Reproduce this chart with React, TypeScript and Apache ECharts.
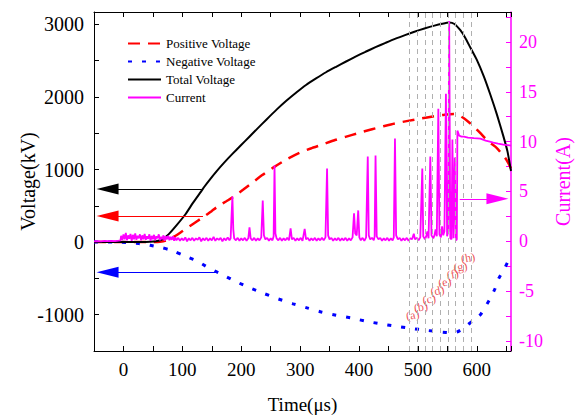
import React, { useEffect, useRef } from 'react';
import * as echarts from 'echarts';

const FONT = 'Liberation Serif, DejaVu Serif, serif';

// [time (μs), voltage (kV)]
const positiveVoltage: [number, number][] = [
  [-50, 0], [0, 0], [50, 0], [62, 5], [72, 20], [80, 50], [90, 95], [100, 150], [110, 205],
  [120, 260], [130, 315], [140, 370], [150, 430], [160, 490], [174, 560], [188, 630],
  [203, 720], [219, 820], [237, 930], [255, 1030], [277, 1140], [299, 1230], [318, 1290],
  [338, 1345], [357, 1400], [377, 1450], [400, 1505], [422, 1555], [441, 1595], [461, 1635],
  [483, 1670], [506, 1705], [525, 1730], [545, 1755], [561, 1765], [570, 1745], [578, 1705],
  [588, 1640], [598, 1566], [606, 1500], [614, 1431], [624, 1360], [634, 1296], [641, 1230],
  [648, 1161], [654, 1080], [658, 1010],
];

const negativeVoltage: [number, number][] = [
  [-50, 0], [-5, 0], [10, -8], [26, -20], [40, -35], [51, -54], [64, -75], [76, -100],
  [88, -135], [98, -170], [110, -210], [127, -270], [143, -347], [165, -436], [190, -540],
  [213, -625], [238, -706], [263, -783], [288, -850], [313, -909], [336, -963], [361, -1008],
  [386, -1044], [411, -1089], [436, -1125], [461, -1157], [488, -1188], [514, -1215],
  [539, -1238], [556, -1248], [566, -1240], [579, -1179], [592, -1089], [606, -1000],
  [613, -909], [623, -774], [631, -639], [637, -504], [648, -347], [656, -212], [658, -160],
];

const totalVoltage: [number, number][] = [
  [-50, 0], [0, 0], [30, 2], [45, 6], [55, 12], [65, 35], [77, 110], [90, 230], [105, 380],
  [118, 540], [132, 700], [138, 770], [145, 845], [158, 975], [171, 1095], [185, 1215],
  [199, 1330], [213, 1445], [227, 1560], [243, 1690], [260, 1825], [277, 1950], [294, 2065],
  [310, 2165], [327, 2255], [344, 2340], [361, 2415], [378, 2488], [394, 2555], [411, 2622],
  [428, 2685], [445, 2745], [461, 2800], [478, 2852], [494, 2898], [511, 2942], [528, 2982],
  [541, 3008], [553, 3025], [562, 3005], [572, 2920], [580, 2820], [589, 2680], [600, 2510],
  [612, 2280], [623, 2030], [634, 1760], [645, 1460], [652, 1250], [658, 980],
];

// [time (μs), current (A)]
const current: [number, number][] = [
  [-50, 0], [-44, 0.03], [-38, 0], [-32, 0.04], [-26, 0.01], [-20, 0.05], [-14, 0.02], [-8, 0.06], [-5, 0.1],
  [-4, 0.55], [-2, 0.15], [0, 0.7], [2, 0.2], [4, 0.85], [6, 0.1], [8, 0.6], [10, 0.25], [12, 0.75],
  [14, 0.05], [16, 0.65], [18, 0.2], [20, 0.8], [22, 0.15], [24, 0.55], [26, 0.3], [28, 0.7], [30, 0.1],
  [32, 0.6], [34, 0.2], [36, 0.75], [38, 0.15], [40, 0.5], [42, 0.25], [44, 0.7], [46, 0.05], [48, 0.55],
  [50, 0.2], [52, 0.65], [54, 0.1], [56, 0.5], [58, 0.3], [60, 0.7], [62, 0.1], [64, 0.45], [66, 0.2],
  [68, 0.6], [70, 0.05], [72, 0.5], [74, 0.2], [76, 0.55], [78, 0.1], [80, 0.45], [82, 0.15], [84, 0.5],
  [86, 0.05], [88, 0.4], [90, 0.1],
  [93, 0.35], [96, 0.05], [99, 0.3], [102, 0.1], [105, 0.4], [108, 0.0], [111, 0.3], [114, 0.1],
  [117, 0.35], [120, 0.05], [123, 0.3], [126, 0.15], [129, 0.4], [132, 0.0], [135, 0.3], [138, 0.1],
  [141, 0.35], [144, 0.05], [147, 0.3], [150, 0.1], [153, 0.45], [156, 0.05], [159, 0.3], [162, 0.15],
  [165, 0.35], [168, 0.0], [171, 0.3], [174, 0.1], [177, 0.4], [180, 0.1], [182, 0.3], [183.5, 2.5],
  [185, 4.5], [186.5, 1.2], [188, 0.3], [191, 0.1], [194, 0.35], [197, 0.05], [200, 0.3], [203, 0.1],
  [206, 0.35], [209, 0.05], [212, 0.3], [214, 1.4], [216, 0.3], [219, 0.1], [222, 0.35], [225, 0.05],
  [228, 0.3], [231, 0.1], [234, 0.4], [236.5, 4.1], [238.5, 0.6], [241, 0.2], [244, 0.35], [247, 0.05],
  [250, 0.3], [253, 0.1], [255, 0.5], [256.5, 7.6], [258, 0.8], [260, 0.3], [263, 0.1], [266, 0.35],
  [269, 0.05], [272, 0.3], [275, 0.1], [278, 0.35], [281, 0.1], [283.8, 1.3], [286, 0.2], [289, 0.35],
  [292, 0.05], [295, 0.3], [298, 0.1], [301, 0.35], [304, 0.05], [307.7, 1.25], [310, 0.2], [313, 0.35],
  [316, 0.05], [319, 0.3], [322, 0.1], [325, 0.35], [328, 0.05], [331, 0.3], [334, 0.1], [337, 0.35],
  [340, 0.1], [343, 0.4], [345.7, 7.3], [347.5, 0.6], [350, 0.2], [353, 0.35], [356, 0.05], [359, 0.3],
  [362, 0.1], [365, 0.35], [368, 0.05], [371, 0.3], [374, 0.1], [377, 0.35], [380, 0.05], [383, 0.3],
  [386, 0.1], [389, 0.4], [391.5, 2.8], [393.5, 0.8], [396, 0.6], [398.6, 3.1], [400.5, 0.4], [403, 0.1],
  [406, 0.35], [409, 0.05], [412, 0.4], [414.8, 8.5], [416.5, 0.6], [419, 0.2], [422, 0.35], [425, 0.1],
  [426.5, 0.5], [428, 8.6], [430, 0.5], [433, 0.2], [436, 0.35], [439, 0.05], [442, 0.3], [445, 0.1],
  [448, 0.35], [451, 0.05], [454, 0.3], [457, 0.1], [459, 0.4], [461, 10.3], [463, 0.6], [466, 0.2],
  [469, 0.35], [472, 0.05], [475, 0.3], [478, 0.1], [481, 0.35], [484, 0.05], [487, 0.3], [490, 0.2],
  [493, 0.76], [495, 0.2], [498, 0.35], [501, 0.1], [504, 0.4], [507.4, 7.3], [509, 0.5], [512, 0.2],
  [514, 0.5], [516, 1.0], [518, 0.3], [521, 8.5], [523, 0.6], [526, 0.3], [528, 0.6], [530, 1.2],
  [532, 0.5], [534.6, 13.3], [536.5, 0.7], [539, 0.4], [541, 1.5], [543, 0.6], [545, 1.0], [547.5, 14.8],
  [549.5, 0.5], [551.5, 1.0], [553, 22.1], [555, 0.3], [557, 0.2], [558.5, 10.2], [560.5, 0.3],
  [562.5, 8.4], [564.5, 0.1], [566, 0.2], [567, 11.1], [570, 10.6], [574, 10.5], [578, 10.5],
  [585, 10.4], [595, 10.35], [606, 10.3], [615, 10.1], [622, 10.0], [628, 9.9], [636, 9.8],
  [645, 9.7], [652, 9.65], [658, 9.6],
];

// discharge stage marks
const stageTimes = [486, 499, 512, 525, 538, 551, 564, 577, 590];
const stageNames = ['(a)', '(b)', '(c)', '(d)', '(e)', '(f)', '(g)', '(h)'];
const stageLabelAt: [number, number][] = [
  [491, -7.4], [505, -6.6], [519, -5.8], [533, -4.95], [545.5, -4.1], [559, -3.3], [572, -2.55], [585, -1.65],
];

// axis arrows: [fromTime, toTime, value]
const blackArrow = [133, -27, 733];
const redArrow = [135, -27, 360];
const blueArrow = [157, -27, -414];
const magentaArrow = [571, 635, 4.26];

const rightTicks = [-10, -7.5, -5, -2.5, 0, 2.5, 5, 7.5, 10, 12.5, 15, 17.5, 20, 22.5];
const rightLabels = [-10, -5, 0, 5, 10, 15, 20];

const MAGENTA = '#ff00ff';

function arrowLine(a: number[], color: string) {
  return {
    silent: true,
    animation: false,
    symbol: ['none', 'triangle'],
    symbolSize: 0,
    label: { show: false },
    lineStyle: { color, width: 1.2, type: 'solid' },
    emphasis: { disabled: true },
    data: [[
      { coord: [a[0], a[2]], symbol: 'none' },
      { coord: [a[1], a[2]], symbol: 'triangle', symbolSize: [11, 22] },
    ]],
  };
}

export default function App() {
  const ref = useRef<HTMLDivElement>(null);
  useEffect(() => {
    const chart = echarts.init(ref.current!, null, { renderer: 'svg' });
    const legendNames = ['Positive Voltage', 'Negative Voltage', 'Total Voltage', 'Current'];
    const option: any = {
      animation: false,
      backgroundColor: '#fff',
      textStyle: { fontFamily: FONT },
      grid: { left: 94, right: 63, top: 12, bottom: 64, containLabel: false },
      legend: {
        orient: 'vertical',
        left: 127,
        top: 37,
        padding: 0,
        itemWidth: 33,
        itemHeight: 10,
        itemGap: 5,
        data: legendNames.map((n) => ({ name: n, itemStyle: { opacity: 0 } })),
        textStyle: { fontFamily: FONT, fontSize: 13, color: '#000' },
      },
      xAxis: [
        {
          type: 'value', min: -50, max: 658, interval: 50, position: 'bottom',
          axisLine: { show: true, onZero: false, lineStyle: { color: '#000', width: 1 } },
          axisTick: { show: true, inside: true, length: 5, lineStyle: { color: '#000' } },
          axisLabel: {
            fontSize: 19, color: '#000', fontFamily: FONT, margin: 9,
            formatter: (v: number) => (v % 100 === 0 ? String(v) : ''),
          },
          splitLine: { show: false },
          name: 'Time(μs)', nameLocation: 'middle', nameGap: 44, nameMoveOverlap: false,
          nameTextStyle: { fontSize: 19, color: '#000', fontFamily: FONT },
        },
        {
          type: 'value', min: -50, max: 658, interval: 50, position: 'top',
          axisLine: { show: true, onZero: false, lineStyle: { color: '#000', width: 1 } },
          axisTick: { show: true, inside: true, length: 5, lineStyle: { color: '#000' } },
          axisLabel: { show: false },
          splitLine: { show: false },
        },
      ],
      yAxis: [
        {
          type: 'value', min: -1500, max: 3170, interval: 500, position: 'left',
          axisLine: { show: true, onZero: false, lineStyle: { color: '#000', width: 1 } },
          axisTick: { show: true, inside: true, length: 5, lineStyle: { color: '#000' } },
          axisLabel: {
            fontSize: 20, color: '#000', fontFamily: FONT, margin: 10,
            formatter: (v: number) => (v % 1000 === 0 ? String(v) : ''),
          },
          splitLine: { show: false },
          name: 'Voltage(kV)', nameLocation: 'middle', nameGap: 56, nameRotate: 90, nameMoveOverlap: false,
          nameTextStyle: { fontSize: 20, color: '#000', fontFamily: FONT },
        },
        {
          type: 'value', min: -11, max: 23, position: 'right',
          axisLine: { show: true, onZero: false, lineStyle: { color: MAGENTA, width: 1.5 } },
          axisTick: { show: true, inside: true, length: 5, customValues: rightTicks, lineStyle: { color: MAGENTA } },
          axisLabel: { fontSize: 18, color: MAGENTA, fontFamily: FONT, margin: 8, customValues: rightLabels },
          splitLine: { show: false },
          name: 'Current(A)', nameLocation: 'middle', nameGap: 42, nameRotate: 90, nameMoveOverlap: false,
          nameTextStyle: { fontSize: 20, color: MAGENTA, fontFamily: FONT },
        },
      ],
      series: [
        {
          name: 'Positive Voltage', type: 'line', xAxisIndex: 0, yAxisIndex: 0,
          data: positiveVoltage, symbol: 'none', showSymbol: false, smooth: 0.2,
          lineStyle: { color: '#ff0000', width: 2.5, type: [12, 8] },
          itemStyle: { color: '#ff0000' },
          markLine: arrowLine(redArrow, '#ff0000'),
        },
        {
          name: 'Negative Voltage', type: 'line', xAxisIndex: 0, yAxisIndex: 0,
          data: negativeVoltage, symbol: 'none', showSymbol: false, smooth: 0.2,
          lineStyle: { color: '#0000ff', width: 3, type: [4, 10] },
          itemStyle: { color: '#0000ff' },
          markLine: arrowLine(blueArrow, '#0000ff'),
        },
        {
          name: 'Total Voltage', type: 'line', xAxisIndex: 0, yAxisIndex: 0,
          data: totalVoltage, symbol: 'none', showSymbol: false, smooth: 0.2,
          lineStyle: { color: '#000000', width: 2 },
          itemStyle: { color: '#000000' },
          markLine: arrowLine(blackArrow, '#000000'),
        },
        {
          name: 'Current', type: 'line', xAxisIndex: 0, yAxisIndex: 1,
          data: current, symbol: 'none', showSymbol: false,
          lineStyle: { color: MAGENTA, width: 1.8 },
          itemStyle: { color: MAGENTA },
          markLine: arrowLine(magentaArrow, MAGENTA),
        },
        {
          name: 'stages', type: 'scatter', xAxisIndex: 0, yAxisIndex: 1,
          data: stageLabelAt, symbolSize: 1,
          itemStyle: { color: 'rgba(0,0,0,0)' },
          silent: true,
          label: {
            show: true, position: 'inside', rotate: 10,
            formatter: (p: any) => stageNames[p.dataIndex],
            fontSize: 12, color: '#e8262b', fontFamily: FONT,
          },
          markLine: {
            silent: true, animation: false,
            symbol: ['none', 'none'],
            label: { show: false },
            lineStyle: { color: '#b0b0b0', width: 1, type: [5, 4] },
            data: stageTimes.map((t) => ({ xAxis: t })),
          },
          z: 1,
        },
      ],
    };
    chart.setOption(option);
    return () => chart.dispose();
  }, []);
  return (
    <div
      ref={ref}
      style={{ position: 'fixed', left: 0, top: 0, width: 581, height: 419, background: '#fff' }}
    />
  );
}
